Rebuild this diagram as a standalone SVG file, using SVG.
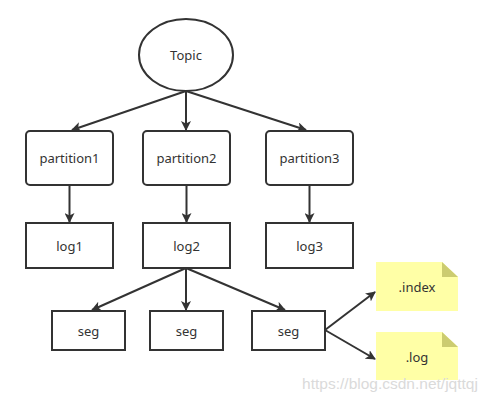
<svg xmlns="http://www.w3.org/2000/svg" width="484" height="402" viewBox="0 0 484 402">
<defs>
<marker id="ah" viewBox="0 0 10 10" refX="9" refY="5" markerWidth="10" markerHeight="10" markerUnits="userSpaceOnUse" orient="auto">
<path d="M0,0 L10,5 L0,10 L2.5,5 Z" fill="#333"/>
</marker>
</defs>
<style>
.box{fill:#fff;stroke:#333;stroke-width:2}
.t{font-family:"Noto Sans","Liberation Sans",sans-serif;font-size:13px;fill:#333;text-anchor:middle;dominant-baseline:central}
.c{stroke:#333;stroke-width:2;fill:none;marker-end:url(#ah)}
.note{fill:#ffffa6}
.fold{fill:#cccc70}
</style>
<rect width="484" height="402" fill="#fff"/>
<g id="topic"><ellipse class="box" cx="186" cy="55" rx="47" ry="36"/><text class="t" x="186" y="55">Topic</text></g>
<g id="partition1"><rect class="box" x="26" y="131" width="87" height="54" rx="4"/><text class="t" x="69.5" y="158">partition1</text></g>
<g id="partition2"><rect class="box" x="143" y="131" width="87" height="54" rx="4"/><text class="t" x="186.5" y="158">partition2</text></g>
<g id="partition3"><rect class="box" x="266" y="131" width="87" height="54" rx="4"/><text class="t" x="309.5" y="158">partition3</text></g>
<g id="log1"><rect class="box" x="26" y="223" width="87" height="45"/><text class="t" x="69.5" y="245.5">log1</text></g>
<g id="log2"><rect class="box" x="143" y="223" width="87" height="45"/><text class="t" x="186.5" y="245.5">log2</text></g>
<g id="log3"><rect class="box" x="266" y="223" width="87" height="45"/><text class="t" x="309.5" y="245.5">log3</text></g>
<g id="seg1"><rect class="box" x="52" y="311" width="73" height="39"/><text class="t" x="88.5" y="330.5">seg</text></g>
<g id="seg2"><rect class="box" x="150" y="311" width="73" height="39"/><text class="t" x="186.5" y="330.5">seg</text></g>
<g id="seg3"><rect class="box" x="252" y="311" width="73" height="39"/><text class="t" x="288.5" y="330.5">seg</text></g>
<g id="index"><path class="note" d="M376,262 H442 L458,277 V311 H376 Z"/><path class="fold" d="M442,262 L458,277 H442 Z"/><text class="t" x="417" y="287">.index</text></g>
<g id="logfile"><path class="note" d="M376,332 H442 L458,347 V380 H376 Z"/><path class="fold" d="M442,332 L458,347 H442 Z"/><text class="t" x="417" y="357">.log</text></g>
<g id="connectors">
<line class="c" x1="186" y1="91" x2="72" y2="130"/>
<line class="c" x1="186" y1="91" x2="186" y2="130"/>
<line class="c" x1="186" y1="91" x2="306" y2="130"/>
<line class="c" x1="69.5" y1="185" x2="69.5" y2="222"/>
<line class="c" x1="186.5" y1="185" x2="186.5" y2="222"/>
<line class="c" x1="309.5" y1="185" x2="309.5" y2="222"/>
<line class="c" x1="186" y1="268" x2="92" y2="310"/>
<line class="c" x1="186" y1="268" x2="186" y2="310"/>
<line class="c" x1="186" y1="268" x2="285" y2="310"/>
<line class="c" x1="325" y1="330" x2="375" y2="292"/>
<line class="c" x1="325" y1="330" x2="375" y2="359"/>
</g>
<text x="390" y="389" font-family="Liberation Sans,sans-serif" font-size="15.5" fill="#dadada" text-anchor="middle">https://blog.csdn.net/jqttqj</text>
</svg>
